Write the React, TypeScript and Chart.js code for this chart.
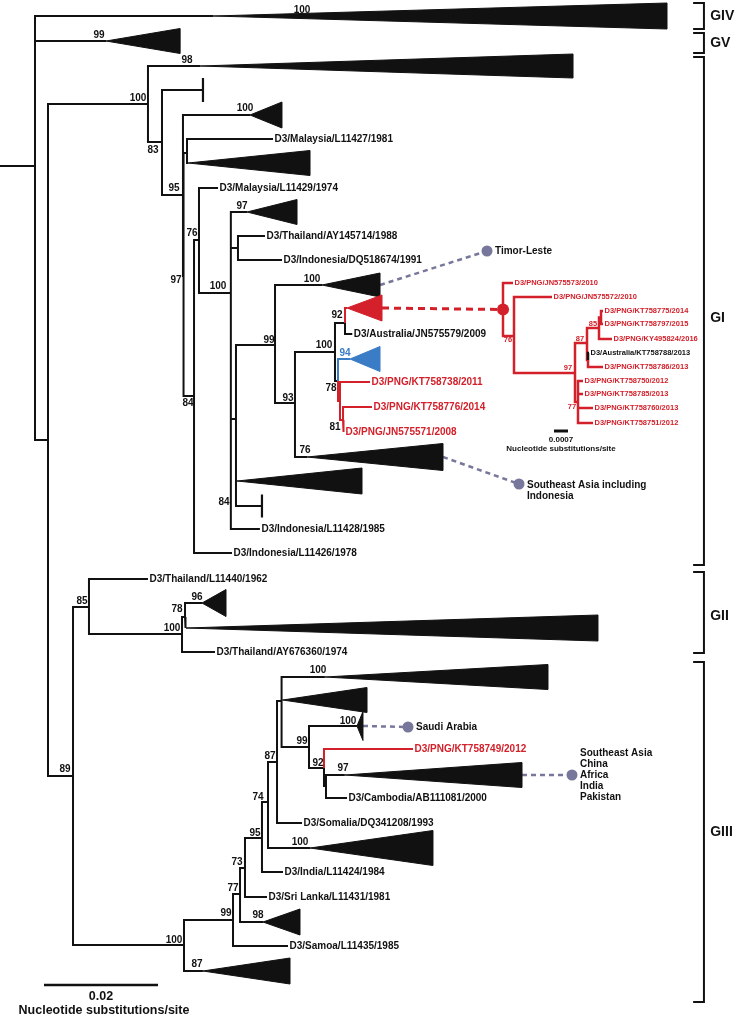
import React, { useEffect, useRef } from "react";
import { Chart, registerables } from "chart.js";
Chart.register(...registerables);

// ---------- DATA ----------
// Main tree: [id, parent, depth (10^-3 substitutions/site), row, colour group]
const mainNodes: [string, string | null, number, number, string][] = [
  ["base", null, 0, 166, "k"],
  ["root", "base", 6.14, 166, "k"],
  ["GIV", "root", 37.4, 16, "k"],
  ["GV", "root", 18.6, 41, "k"],
  ["n48", "root", 8.42, 440, "k"],
  ["GI", "n48", 25.96, 104, "k"],
  ["c98", "GI", 35.1, 66, "k"],
  ["n83", "GI", 28.42, 142, "k"],
  ["tick1", "n83", 35.61, 90, "k"],
  ["n95", "n83", 32.1, 195, "k"],
  ["c100a", "n95", 43.86, 115, "k"],
  ["n97", "n95", 32.2, 276, "k"],
  ["nL", "n97", 32.81, 153, "k"],
  ["L11427", "nL", 47.9, 139, "k"],
  ["cL", "nL", 33.0, 163, "k"],
  ["nB", "n97", 34.04, 396, "k"],
  ["nE", "nB", 34.91, 240, "k"],
  ["L11429", "nE", 38.25, 188, "k"],
  ["nF", "nE", 40.5, 293, "k"],
  ["c97", "nF", 43.33, 212, "k"],
  ["nG", "nF", 41.75, 248, "k"],
  ["AY145714", "nG", 46.49, 236, "k"],
  ["DQ518674", "nG", 49.47, 260, "k"],
  ["nU", "nF", 41.4, 419, "k"],
  ["nK", "nU", 48.25, 345, "k"],
  ["cTimor", "nK", 56.49, 285, "k"],
  ["n93", "nK", 51.75, 403, "k"],
  ["nM", "n93", 58.77, 352, "k"],
  ["nN", "nM", 60.53, 323, "k"],
  ["cRed", "nN", 60.88, 308, "r"],
  ["JN575579", "nN", 61.8, 334, "k"],
  ["nO", "nM", 59.3, 381, "k"],
  ["cBlue", "nO", 61.4, 359, "b"],
  ["nQ", "nO", 59.65, 401, "r"],
  ["KT758738", "nQ", 64.91, 382, "r"],
  ["nP", "nQ", 60.18, 420, "r"],
  ["KT758776", "nP", 65.26, 407, "r"],
  ["JN575571", "nP", 60.35, 432, "r"],
  ["c76", "n93", 53.86, 457, "k"],
  ["cSEA1", "nU", 41.6, 481, "k"],
  ["tick2", "nU", 45.96, 506, "k"],
  ["L11428", "nF", 45.6, 529, "k"],
  ["L11426", "nB", 40.7, 553, "k"],
  ["n89", "n48", 12.81, 776, "k"],
  ["nGII", "n89", 15.61, 607, "k"],
  ["L11440", "nGII", 25.96, 579, "k"],
  ["n100g2", "nGII", 31.93, 634, "k"],
  ["n78g2", "n100g2", 32.46, 617, "k"],
  ["c96", "n78g2", 35.44, 603, "k"],
  ["cGII", "n78g2", 32.63, 628, "k"],
  ["AY676360", "n100g2", 37.72, 652, "k"],
  ["nGIII", "n89", 32.28, 945, "k"],
  ["nb", "nGIII", 40.88, 920, "k"],
  ["c87", "nGIII", 35.6, 971, "k"],
  ["nc", "nb", 42.11, 894, "k"],
  ["L11435", "nb", 50.53, 946, "k"],
  ["nd", "nc", 42.98, 868, "k"],
  ["c98g3", "nc", 46.14, 922, "k"],
  ["ne", "nd", 45.96, 838, "k"],
  ["L11431", "nd", 46.84, 897, "k"],
  ["nf", "ne", 47.02, 802, "k"],
  ["L11424", "ne", 49.65, 872, "k"],
  ["ng", "nf", 48.6, 762, "k"],
  ["c100g3b", "nf", 54.39, 848, "k"],
  ["DQ341208", "ng", 52.98, 823, "k"],
  ["nh", "ng", 49.4, 701, "k"],
  ["c100top", "nh", 57.0, 677, "k"],
  ["cG3b", "nh", 49.6, 700, "k"],
  ["nj", "nh", 54.21, 747, "k"],
  ["cSaudi", "nj", 62.63, 726, "k"],
  ["nk", "nj", 56.84, 768, "k"],
  ["KT758749", "nk", 72.46, 749, "r"],
  ["nl", "nk", 57.19, 786, "k"],
  ["c97g3", "nl", 60.5, 775, "k"],
  ["AB111081", "nl", 60.88, 798, "k"],
];

// Collapsed clades: [node id, tip depth, half height in rows]
const collapsedClades: [string, number, number][] = [
  ["GIV", 117.02, 13], ["GV", 31.6, 12.5], ["c98", 100.53, 12], ["tick1", 35.61, 12],
  ["c100a", 49.47, 13], ["cL", 54.39, 12.5], ["c97", 52.11, 12.5], ["cTimor", 66.67, 12],
  ["cRed", 67.02, 13], ["cBlue", 66.67, 12.5], ["c76", 77.72, 13.5], ["cSEA1", 63.51, 13],
  ["tick2", 45.96, 11.5], ["c96", 39.65, 13.5], ["cGII", 104.91, 13], ["c87", 50.88, 13],
  ["c98g3", 52.63, 13], ["c100g3b", 75.96, 17.5], ["c100top", 96.14, 12.5], ["cG3b", 64.39, 12.5],
  ["cSaudi", 63.68, 14.5], ["c97g3", 91.58, 12.5],
];

const mainTipLabels: [string, string][] = [
  ["L11427", "D3/Malaysia/L11427/1981"], ["L11429", "D3/Malaysia/L11429/1974"],
  ["AY145714", "D3/Thailand/AY145714/1988"], ["DQ518674", "D3/Indonesia/DQ518674/1991"],
  ["JN575579", "D3/Australia/JN575579/2009"], ["KT758738", "D3/PNG/KT758738/2011"],
  ["KT758776", "D3/PNG/KT758776/2014"], ["JN575571", "D3/PNG/JN575571/2008"],
  ["L11428", "D3/Indonesia/L11428/1985"], ["L11426", "D3/Indonesia/L11426/1978"],
  ["L11440", "D3/Thailand/L11440/1962"], ["AY676360", "D3/Thailand/AY676360/1974"],
  ["KT758749", "D3/PNG/KT758749/2012"], ["AB111081", "D3/Cambodia/AB111081/2000"],
  ["DQ341208", "D3/Somalia/DQ341208/1993"], ["L11424", "D3/India/L11424/1984"],
  ["L11431", "D3/Sri Lanka/L11431/1981"], ["L11435", "D3/Samoa/L11435/1985"],
];

// Bootstrap support: [value, depth, row, colour group]
const mainSupport: [string, number, number, string][] = [
  ["100", 52.98, 10, "k"], ["99", 17.37, 35, "k"], ["98", 32.81, 60, "k"], ["100", 24.21, 98, "k"],
  ["83", 26.84, 150, "k"], ["100", 42.98, 108, "k"], ["95", 30.53, 188, "k"], ["97", 42.46, 206, "k"],
  ["76", 33.68, 233, "k"], ["97", 30.88, 280, "k"], ["100", 38.25, 286, "k"], ["99", 47.19, 340, "k"],
  ["100", 54.74, 279, "k"], ["92", 59.12, 315, "k"], ["100", 56.84, 345, "k"], ["94", 60.53, 353, "b"],
  ["78", 58.07, 388, "k"], ["93", 50.53, 398, "k"], ["81", 58.77, 427, "k"], ["76", 53.51, 450, "k"],
  ["84", 39.3, 502, "k"], ["84", 32.98, 403, "k"], ["89", 11.4, 769, "k"], ["85", 14.39, 601, "k"],
  ["96", 34.56, 597, "k"], ["78", 31.05, 609, "k"], ["100", 30.18, 628, "k"], ["100", 55.79, 670, "k"],
  ["87", 47.37, 756, "k"], ["99", 52.98, 741, "k"], ["100", 61.05, 721, "k"], ["92", 55.79, 763, "k"],
  ["97", 60.18, 768, "k"], ["74", 45.26, 797, "k"], ["95", 44.74, 833, "k"], ["100", 52.63, 842, "k"],
  ["73", 41.58, 862, "k"], ["77", 40.88, 888, "k"], ["98", 45.26, 915, "k"], ["99", 39.65, 913, "k"],
  ["100", 30.53, 940, "k"], ["87", 34.56, 964, "k"],
];

// Inset tree (PNG clade), own depth axis: [id, parent, depth (10^-3 subs/site), row, colour]
const insetNodes: [string, string | null, number, number, string][] = [
  ["i0", null, 0, 309.5, "r"],
  ["JN575573", "i0", 0.5, 283, "r"],
  ["i76", "i0", 0.55, 336, "r"],
  ["JN575572", "i76", 2.45, 297, "r"],
  ["i97", "i76", 3.6, 373, "r"],
  ["i87", "i97", 4.2, 343, "r"],
  ["i85", "i87", 4.8, 328, "r"],
  ["i85a", "i85", 4.9, 317.5, "r"],
  ["KT758775", "i85a", 5.0, 311, "r"],
  ["KT758797", "i85a", 5.0, 324, "r"],
  ["KY495824", "i85", 5.45, 339, "r"],
  ["im", "i87", 4.25, 360, "r"],
  ["KT758788", "im", 4.3, 353, "k"],
  ["KT758786", "im", 5.0, 367, "r"],
  ["i77", "i97", 3.75, 402, "r"],
  ["KT758750", "i77", 4.0, 381, "r"],
  ["KT758785", "i77", 4.0, 394, "r"],
  ["KT758760", "i77", 4.5, 408, "r"],
  ["KT758751", "i77", 4.5, 423, "r"],
];
const insetTipLabels: [string, string][] = [
  ["JN575573", "D3/PNG/JN575573/2010"], ["JN575572", "D3/PNG/JN575572/2010"],
  ["KT758775", "D3/PNG/KT758775/2014"], ["KT758797", "D3/PNG/KT758797/2015"],
  ["KY495824", "D3/PNG/KY495824/2016"], ["KT758788", "D3/Australia/KT758788/2013"],
  ["KT758786", "D3/PNG/KT758786/2013"], ["KT758750", "D3/PNG/KT758750/2012"],
  ["KT758785", "D3/PNG/KT758785/2013"], ["KT758760", "D3/PNG/KT758760/2013"],
  ["KT758751", "D3/PNG/KT758751/2012"],
];
const insetSupport: [string, number, number][] = [
  ["76", 0.25, 340], ["97", 3.25, 368], ["87", 3.85, 339], ["85", 4.5, 324], ["77", 3.45, 407],
];
const insetLinkDepth = 88.25; // inset root marker on the main depth axis

// Geographic notes: [clade, marker depth, marker row, first text row, lines]
const regionNotes: [string, number, number, number, string[]][] = [
  ["cTimor", 85.44, 251, 251, ["Timor-Leste"]],
  ["c76", 91.05, 484, 485, ["Southeast Asia including", "Indonesia"]],
  ["cSaudi", 71.58, 727, 727, ["Saudi Arabia"]],
  ["c97g3", 100.35, 775, 753, ["Southeast Asia", "China", "Africa", "India", "Pakistan"]],
];

// Genotype groups: [name, top row, bottom row, label row]
const genotypeGroups: [string, number, number, number][] = [
  ["GIV", 3, 29, 16], ["GV", 33, 53, 43], ["GI", 57, 565, 318], ["GII", 572, 653, 616], ["GIII", 662, 1002, 832],
];

const mainScaleBar = { length: 20, label: "0.02", title: "Nucleotide substitutions/site" };
const insetScaleBar = { length: 0.7, label: "0.0007", title: "Nucleotide substitutions/site" };

// ---------- STYLE ----------
const COLORS: Record<string, string> = { k: "#111111", r: "#d3202a", b: "#3b7cc6" };
const NOTE_COLOR = "#76779b";
const FONT = '"Liberation Sans", Arial, Helvetica, sans-serif';

type N = [string, string | null, number, number, string];

function elbows(nodes: N[], colour: string) {
  const byId = new Map(nodes.map((n) => [n[0], n]));
  const pts: any[] = [];
  for (const n of nodes) {
    if (!n[1] || n[4] !== colour) continue;
    const p = byId.get(n[1])!;
    pts.push({ x: p[2], y: p[3] }, { x: p[2], y: n[3] }, { x: n[2], y: n[3] }, { x: null, y: null });
  }
  return pts;
}

const lineDs = (data: any[], color: string, width: number, xAxisID = "x", extra: any = {}) => ({
  type: "line",
  data,
  xAxisID,
  yAxisID: "y",
  borderColor: color,
  backgroundColor: color,
  borderWidth: width,
  pointRadius: 0,
  fill: false,
  tension: 0,
  spanGaps: false,
  clip: false,
  ...extra,
});

export default function App() {
  const ref = useRef<HTMLCanvasElement | null>(null);
  useEffect(() => {
    document.body.style.margin = "0";
    const mainById = new Map(mainNodes.map((n) => [n[0], n]));
    const cladeById = new Map(collapsedClades.map((c) => [c[0], c]));

    const datasets: any[] = [];
    // coloured first so they are painted on top
    datasets.push(lineDs(elbows(insetNodes, "k"), COLORS.k, 2.5, "xi"));
    datasets.push(lineDs(elbows(insetNodes, "r"), COLORS.r, 2.5, "xi"));
    datasets.push(lineDs(elbows(mainNodes, "b"), COLORS.b, 2));
    datasets.push(lineDs(elbows(mainNodes, "r"), COLORS.r, 2));
    datasets.push(lineDs(elbows(mainNodes, "k"), COLORS.k, 2));

    // note connectors and markers
    const notePts: any[] = [];
    const noteMarkers: any[] = [];
    for (const [clade, d, r] of regionNotes) {
      const node = mainById.get(clade)!;
      const c = cladeById.get(clade)!;
      notePts.push({ x: c[1], y: node[3] }, { x: d, y: r }, { x: null, y: null });
      noteMarkers.push({ x: d, y: r });
    }
    datasets.push(lineDs(notePts, NOTE_COLOR, 2.5, "x", { borderDash: [5, 4] }));
    datasets.push(lineDs(noteMarkers, NOTE_COLOR, 0, "x", { showLine: false, pointRadius: 5.5, pointBackgroundColor: NOTE_COLOR, pointBorderWidth: 0 }));
    const red = mainById.get("cRed")!;
    const redEnd = cladeById.get("cRed")!;
    const insetRoot = insetNodes[0];
    datasets.push(lineDs([{ x: redEnd[1], y: red[3] }, { x: insetLinkDepth, y: insetRoot[3] }], COLORS.r, 3, "x", { borderDash: [7, 5] }));
    datasets.push(lineDs([{ x: insetLinkDepth, y: insetRoot[3] }], COLORS.r, 0, "x", { showLine: false, pointRadius: 6, pointBackgroundColor: COLORS.r, pointBorderWidth: 0 }));

    // scale bars
    datasets.push(lineDs([{ x: 7.72, y: 985 }, { x: 7.72 + mainScaleBar.length, y: 985 }], COLORS.k, 2.5));
    datasets.push(lineDs([{ x: 2.55, y: 431 }, { x: 2.55 + insetScaleBar.length, y: 431 }], COLORS.k, 3, "xi"));

    // group brackets
    const br: any[] = [];
    for (const [, top, bottom] of genotypeGroups) {
      br.push({ x: 121.6, y: top }, { x: 123.5, y: top }, { x: 123.5, y: bottom }, { x: 121.6, y: bottom }, { x: null, y: null });
    }
    datasets.push(lineDs(br, COLORS.k, 2));

    const decor = {
      id: "treeDecor",
      afterDatasetsDraw(chart: any) {
        const ctx = chart.ctx as CanvasRenderingContext2D;
        const X = chart.scales.x, XI = chart.scales.xi, Y = chart.scales.y;
        ctx.save();
        // collapsed clades
        for (const [id, end, half] of collapsedClades) {
          const n = mainById.get(id)!;
          const col = COLORS[n[4]];
          const ax = X.getPixelForValue(n[2]), ay = Y.getPixelForValue(n[3]);
          const ex = X.getPixelForValue(end);
          const t = Y.getPixelForValue(n[3] - half), b = Y.getPixelForValue(n[3] + half);
          ctx.beginPath();
          ctx.moveTo(ax, ay);
          ctx.lineTo(ex, t);
          ctx.lineTo(ex, b);
          ctx.closePath();
          ctx.fillStyle = col;
          ctx.strokeStyle = col;
          ctx.lineWidth = ex - ax < 1 ? 2.2 : 1;
          ctx.fill();
          ctx.stroke();
        }
        ctx.textBaseline = "middle";
        // tip labels
        ctx.font = `bold 10px ${FONT}`;
        ctx.textAlign = "left";
        for (const [id, text] of mainTipLabels) {
          const n = mainById.get(id)!;
          ctx.fillStyle = COLORS[n[4]];
          ctx.fillText(text, X.getPixelForValue(n[2]) + 1.5, Y.getPixelForValue(n[3]));
        }
        // support
        ctx.textAlign = "center";
        for (const [v, d, r, c] of mainSupport) {
          ctx.fillStyle = COLORS[c];
          ctx.fillText(v, X.getPixelForValue(d), Y.getPixelForValue(r));
        }
        // inset
        const insetById = new Map(insetNodes.map((n) => [n[0], n]));
        ctx.font = `bold 7.5px ${FONT}`;
        ctx.textAlign = "left";
        for (const [id, text] of insetTipLabels) {
          const n = insetById.get(id)!;
          ctx.fillStyle = COLORS[n[4]];
          ctx.fillText(text, XI.getPixelForValue(n[2]) + 1.5, Y.getPixelForValue(n[3]));
        }
        ctx.textAlign = "center";
        ctx.fillStyle = COLORS.r;
        for (const [v, d, r] of insetSupport) ctx.fillText(v, XI.getPixelForValue(d), Y.getPixelForValue(r));
        ctx.fillStyle = COLORS.k;
        const ibc = XI.getPixelForValue(2.55 + insetScaleBar.length / 2);
        ctx.font = `bold 8px ${FONT}`;
        ctx.fillText(insetScaleBar.label, ibc, Y.getPixelForValue(440));
        ctx.fillText(insetScaleBar.title, ibc, Y.getPixelForValue(449));
        // main scale bar text
        const mbc = X.getPixelForValue(7.72 + mainScaleBar.length / 2);
        ctx.font = `bold 12.5px ${FONT}`;
        ctx.fillText(mainScaleBar.label, mbc, Y.getPixelForValue(997));
        ctx.fillText(mainScaleBar.title, mbc + 3, Y.getPixelForValue(1011));
        // notes
        ctx.font = `bold 10px ${FONT}`;
        ctx.textAlign = "left";
        for (const [, d, , tr, lines] of regionNotes) {
          lines.forEach((s, i) => ctx.fillText(s, X.getPixelForValue(d) + 8, Y.getPixelForValue(tr + i * 11)));
        }
        // groups
        ctx.font = `bold 14px ${FONT}`;
        for (const [name, , , lr] of genotypeGroups) {
          ctx.fillText(name, X.getPixelForValue(124.6), Y.getPixelForValue(lr));
        }
        ctx.restore();
      },
    };

    const chart = new Chart(ref.current!, {
      type: "line",
      data: { datasets },
      options: {
        animation: false,
        responsive: false,
        events: [],
        layout: { padding: 0, autoPadding: false },
        plugins: { legend: { display: false }, tooltip: { enabled: false } },
        scales: {
          x: { type: "linear", min: 0, max: 129.65, display: false },
          xi: { type: "linear", axis: "x", min: -25.15, max: 11.8, display: false },
          y: { type: "linear", min: 0, max: 1018, reverse: true, display: false },
        },
      } as any,
      plugins: [decor as any],
    });
    return () => chart.destroy();
  }, []);
  return (
    <div style={{ width: 739, height: 1018, background: "#fff" }}>
      <canvas ref={ref} width={739} height={1018} style={{ display: "block" }} />
    </div>
  );
}
